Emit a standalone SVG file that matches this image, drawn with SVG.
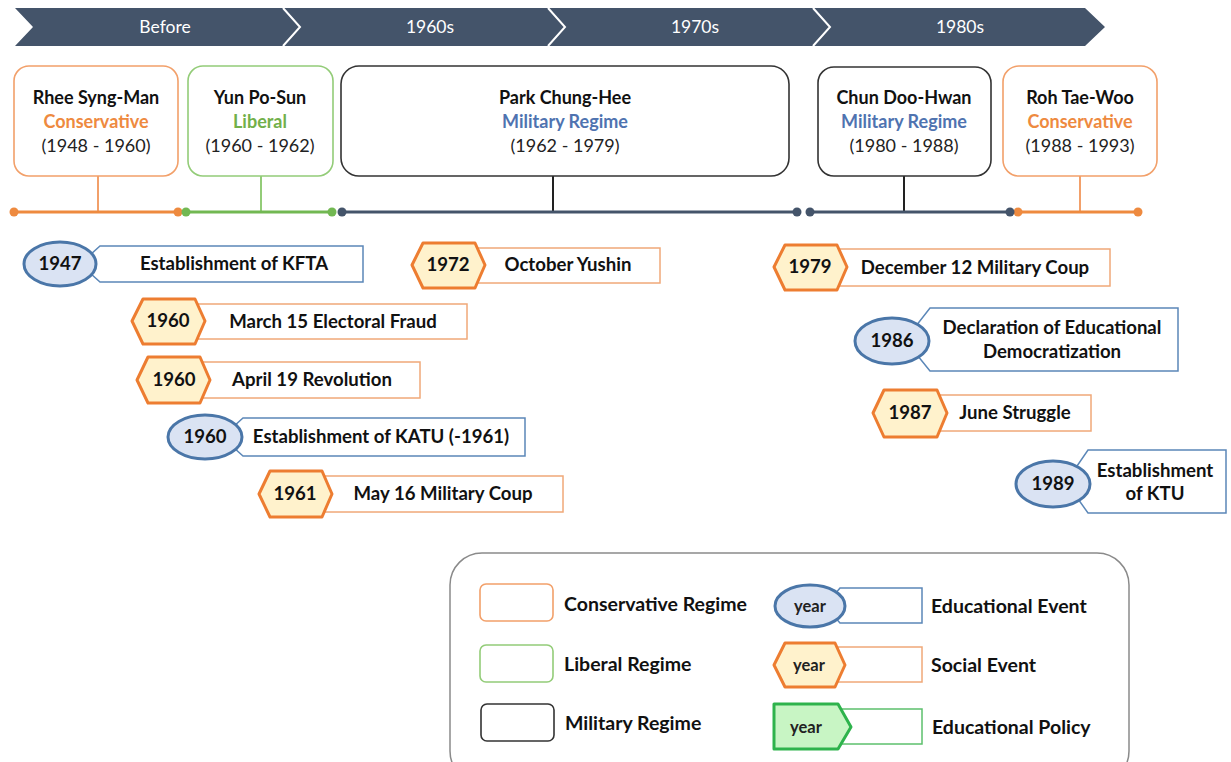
<svg xmlns="http://www.w3.org/2000/svg" width="1231" height="762" viewBox="0 0 1231 762">
<style>
text{font-family:Lato,"Open Sans","Liberation Sans",sans-serif;}
.bar{fill:#44546A;}
.sep{fill:none;stroke:#fff;stroke-width:2;}
.barT{fill:#fff;font-size:17.5px;text-anchor:middle;}
.rc{fill:#fff;stroke:#F2A06A;stroke-width:1.6;}
.rl{fill:#fff;stroke:#93CC78;stroke-width:1.6;}
.rm{fill:#fff;stroke:#333;stroke-width:1.6;}
.nm{font-size:18px;font-weight:bold;fill:#111;text-anchor:middle;}
.cons{font-size:18px;font-weight:bold;fill:#EE8A3F;text-anchor:middle;}
.lib{font-size:18px;font-weight:bold;fill:#72B04A;text-anchor:middle;}
.mil{font-size:18px;font-weight:bold;fill:#4F73B0;text-anchor:middle;}
.yr{font-size:18px;fill:#222;text-anchor:middle;}
.hex{fill:#FFF2CC;stroke:#ED7D31;stroke-width:3;stroke-linejoin:round;}
.ell{fill:#DAE3F3;stroke:#4A76A8;stroke-width:3;}
.pol{fill:#C8F5C4;stroke:#2EB34C;stroke-width:3;stroke-linejoin:round;}
.ob{fill:#fff;stroke:#F0A878;stroke-width:1.5;}
.bb{fill:#fff;stroke:#5B87B8;stroke-width:1.5;}
.gb{fill:#fff;stroke:#5CC06C;stroke-width:1.5;}
.et{font-size:18.6px;font-weight:bold;fill:#111;text-anchor:middle;}
.lt{font-size:19.5px;font-weight:bold;fill:#111;}
.yw{font-size:16.5px;font-weight:bold;fill:#222;text-anchor:middle;}
.tlo{stroke:#EE8A3F;stroke-width:3;}
.tlg{stroke:#72B852;stroke-width:3;}
.tld{stroke:#44546A;stroke-width:3;}
</style>

<g id="period-bar">
<path class="bar" d="M15,8 L1085,8 L1105,27 L1085,46 L15,46 L33,27 Z"/>
<polyline class="sep" points="283,8 300,27 283,46"/>
<polyline class="sep" points="548,8 565,27 548,46"/>
<polyline class="sep" points="813,8 830,27 813,46"/>
<text class="barT" x="165" y="33">Before</text>
<text class="barT" x="430" y="33">1960s</text>
<text class="barT" x="695" y="33">1970s</text>
<text class="barT" x="960" y="33">1980s</text>
</g>

<g id="connectors">
<line x1="98" y1="176" x2="98" y2="212" stroke="#F2A06A" stroke-width="2"/>
<line x1="261" y1="176" x2="261" y2="212" stroke="#93CC78" stroke-width="2"/>
<line x1="553" y1="176" x2="553" y2="212" stroke="#222" stroke-width="2"/>
<line x1="904" y1="176" x2="904" y2="212" stroke="#222" stroke-width="2"/>
<line x1="1080" y1="176" x2="1080" y2="212" stroke="#F2A06A" stroke-width="2"/>
<line class="tlo" x1="14" y1="212" x2="178" y2="212"/>
<line class="tlg" x1="186" y1="212" x2="332" y2="212"/>
<line class="tld" x1="342" y1="212" x2="797" y2="212"/>
<line class="tld" x1="810" y1="212" x2="1010" y2="212"/>
<line class="tlo" x1="1018" y1="212" x2="1138" y2="212"/>
<g fill="#EE8A3F"><circle cx="14" cy="212" r="4.5"/><circle cx="178" cy="212" r="4.5"/><circle cx="1018" cy="212" r="4.5"/><circle cx="1138" cy="212" r="4.5"/></g>
<g fill="#72B852"><circle cx="186" cy="212" r="4.5"/><circle cx="332" cy="212" r="4.5"/></g>
<g fill="#44546A"><circle cx="342" cy="212" r="4.5"/><circle cx="797" cy="212" r="4.5"/><circle cx="810" cy="212" r="4.5"/><circle cx="1010" cy="212" r="4.5"/></g>
</g>

<g id="rhee">
<rect class="rc" x="14" y="66" width="164" height="110" rx="15"/>
<text class="nm" x="96" y="104">Rhee Syng-Man</text>
<text class="cons" x="96" y="128">Conservative</text>
<text class="yr" x="96" y="152">(1948 - 1960)</text>
</g>
<g id="yun">
<rect class="rl" x="188" y="66" width="145" height="110" rx="15"/>
<text class="nm" x="260" y="104">Yun Po-Sun</text>
<text class="lib" x="260" y="128">Liberal</text>
<text class="yr" x="260" y="152">(1960 - 1962)</text>
</g>
<g id="park">
<rect class="rm" x="341" y="66" width="448" height="110" rx="18"/>
<text class="nm" x="565" y="104">Park Chung-Hee</text>
<text class="mil" x="565" y="128">Military Regime</text>
<text class="yr" x="565" y="152">(1962 - 1979)</text>
</g>
<g id="chun">
<rect class="rm" x="818" y="67" width="173" height="109" rx="16"/>
<text class="nm" x="904" y="104">Chun Doo-Hwan</text>
<text class="mil" x="904" y="128">Military Regime</text>
<text class="yr" x="904" y="152">(1980 - 1988)</text>
</g>
<g id="roh">
<rect class="rc" x="1003" y="66" width="154" height="110" rx="16"/>
<text class="nm" x="1080" y="104">Roh Tae-Woo</text>
<text class="cons" x="1080" y="128">Conservative</text>
<text class="yr" x="1080" y="152">(1988 - 1993)</text>
</g>

<g id="ev-1947">
<polygon class="bb" points="100,246 363,246 363,282 100,282 80,264"/>
<ellipse class="ell" cx="60" cy="264" rx="36" ry="22"/>
<text class="et" x="60" y="270">1947</text>
<text class="et" x="234" y="270">Establishment of KFTA</text>
</g>
<g id="ev-1960a">
<rect class="ob" x="195" y="304" width="272" height="35"/>
<polygon class="hex" points="132,321 143,299 195,299 205,321 195,344 143,344"/>
<text class="et" x="168" y="327">1960</text>
<text class="et" x="333" y="328">March 15 Electoral Fraud</text>
</g>
<g id="ev-1960b">
<rect class="ob" x="200" y="362" width="220" height="36"/>
<polygon class="hex" points="137,380 148,357 200,357 210,380 200,403 148,403"/>
<text class="et" x="174" y="386">1960</text>
<text class="et" x="312" y="386">April 19 Revolution</text>
</g>
<g id="ev-1960c">
<polygon class="bb" points="243,418 525,418 525,456 243,456 222,437"/>
<ellipse class="ell" cx="205" cy="437" rx="37" ry="22"/>
<text class="et" x="205" y="443">1960</text>
<text class="et" x="381" y="443">Establishment of KATU (-1961)</text>
</g>
<g id="ev-1961">
<rect class="ob" x="320" y="476" width="243" height="36"/>
<polygon class="hex" points="259,494 270,471 322,471 332,494 322,517 270,517"/>
<text class="et" x="295" y="500">1961</text>
<text class="et" x="443" y="500">May 16 Military Coup</text>
</g>
<g id="ev-1972">
<rect class="ob" x="475" y="248" width="185" height="35"/>
<polygon class="hex" points="412,265 423,243 475,243 485,265 475,288 423,288"/>
<text class="et" x="448" y="271">1972</text>
<text class="et" x="568" y="271">October Yushin</text>
</g>
<g id="ev-1979">
<rect class="ob" x="836" y="249" width="274" height="37"/>
<polygon class="hex" points="774,267 785,245 837,245 847,267 837,290 785,290"/>
<text class="et" x="810" y="273">1979</text>
<text class="et" x="975" y="274">December 12 Military Coup</text>
</g>
<g id="ev-1986">
<polygon class="bb" points="930,308 1178,308 1178,371 930,371 905,340"/>
<ellipse class="ell" cx="892" cy="341" rx="37" ry="23"/>
<text class="et" x="892" y="347">1986</text>
<text class="et" x="1052" y="334">Declaration of Educational</text>
<text class="et" x="1052" y="358">Democratization</text>
</g>
<g id="ev-1987">
<rect class="ob" x="936" y="395" width="155" height="36"/>
<polygon class="hex" points="873,413 884,390 937,390 947,413 937,437 884,437"/>
<text class="et" x="910" y="419">1987</text>
<text class="et" x="1015" y="419">June Struggle</text>
</g>
<g id="ev-1989">
<polygon class="bb" points="1088,450 1226,450 1226,513 1088,513 1066,482"/>
<ellipse class="ell" cx="1053" cy="484" rx="37" ry="23"/>
<text class="et" x="1053" y="490">1989</text>
<text class="et" x="1155" y="477">Establishment</text>
<text class="et" x="1155" y="500">of KTU</text>
</g>

<g id="legend">
<rect x="450" y="553" width="679" height="230" rx="32" fill="#fff" stroke="#8A8A8A" stroke-width="1.5"/>
<rect class="rc" x="480" y="584" width="73" height="37" rx="6"/>
<text class="lt" x="564" y="611">Conservative Regime</text>
<rect class="rl" x="480" y="645" width="73" height="37" rx="6"/>
<text class="lt" x="564" y="671">Liberal Regime</text>
<rect class="rm" x="481" y="704" width="73" height="37" rx="6"/>
<text class="lt" x="565" y="730">Military Regime</text>

<polygon class="bb" points="840,588 922,588 922,623 840,623 825,606"/>
<ellipse class="ell" cx="810" cy="606" rx="35" ry="21"/>
<text class="yw" x="810" y="612">year</text>
<text class="lt" x="931" y="613">Educational Event</text>

<rect class="ob" x="838" y="647" width="84" height="35"/>
<polygon class="hex" points="774,665 785,643 835,643 845,665 835,687 785,687"/>
<text class="yw" x="809" y="671">year</text>
<text class="lt" x="931" y="672">Social Event</text>

<rect class="gb" x="838" y="709" width="84" height="35"/>
<polygon class="pol" points="774,704 838,704 851,727 838,749 774,749"/>
<text class="yw" x="806" y="733">year</text>
<text class="lt" x="932" y="734">Educational Policy</text>
</g>
</svg>
